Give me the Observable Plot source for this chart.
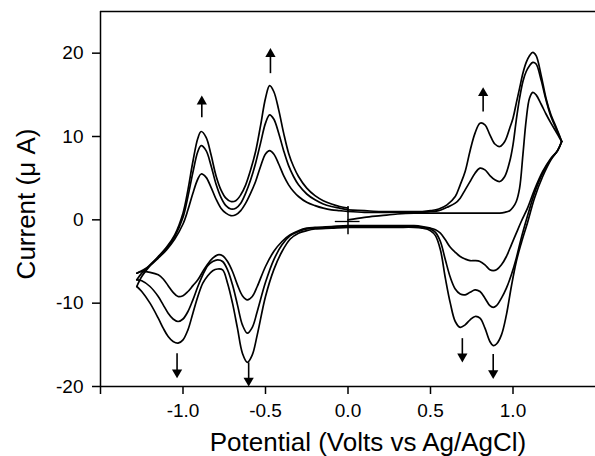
<!DOCTYPE html>
<html>
<head>
<meta charset="utf-8">
<script src="https://cdn.jsdelivr.net/npm/d3@7"></script>
<script src="https://cdn.jsdelivr.net/npm/@observablehq/plot@0.6"></script>
<style>
  html, body { margin: 0; padding: 0; background: #fff; }
  #chart { width: 595px; height: 456px; }
</style>
</head>
<body>
<div id="chart"></div>
<script>
// ---- Data ----
// Upper (anodic) branch, left half, potential grid (V)
const vUpL = [-1.28, -1.25, -1.2, -1.15, -1.1, -1.05, -1.0, -0.97, -0.94, -0.91, -0.89, -0.86, -0.83, -0.8, -0.77, -0.74, -0.71, -0.68, -0.65, -0.62, -0.59, -0.56, -0.53, -0.5, -0.475, -0.45, -0.42, -0.39, -0.36, -0.33, -0.3, -0.25, -0.2, -0.15, -0.1, -0.05, 0];
const upA = [-6.4, -6.1, -5.5, -4.6, -3.6, -2.3, -0.5, 1.2, 3.2, 4.9, 5.5, 5.1, 3.9, 2.5, 1.4, 0.8, 0.5, 0.6, 1.1, 2.0, 3.2, 4.6, 6.4, 7.9, 8.3, 7.9, 6.7, 5.3, 4.2, 3.4, 2.8, 2.1, 1.7, 1.4, 1.2, 1.1, 1.0];
const upB = [-7.2, -6.4, -5.4, -4.5, -3.4, -2.0, 0.3, 2.8, 5.7, 8.2, 8.9, 8.3, 6.5, 4.3, 2.7, 1.7, 1.3, 1.4, 2.0, 3.2, 4.8, 6.8, 9.2, 11.6, 12.6, 12.1, 10.4, 8.3, 6.5, 5.2, 4.2, 3.1, 2.4, 1.9, 1.6, 1.4, 1.2];
const upC = [-8.0, -6.8, -5.5, -4.4, -3.3, -1.8, 0.8, 3.6, 7.0, 9.8, 10.6, 9.9, 7.8, 5.3, 3.6, 2.6, 2.2, 2.3, 3.0, 4.2, 6.0, 8.2, 11.3, 14.6, 16.1, 15.4, 13.2, 10.4, 8.0, 6.4, 5.2, 3.8, 2.9, 2.3, 1.9, 1.6, 1.4];

// Upper (anodic) branch, right half
const vUpR = [0, 0.1, 0.2, 0.3, 0.4, 0.45, 0.5, 0.55, 0.6, 0.65, 0.68, 0.71, 0.74, 0.77, 0.8, 0.83, 0.86, 0.89, 0.92, 0.95, 0.98, 1.0, 1.02, 1.04, 1.06, 1.08, 1.1, 1.12, 1.14, 1.17, 1.2, 1.23, 1.26, 1.28, 1.295];
const upF = [0.0, 0.3, 0.5, 0.7, 0.8, 0.8, 0.8, 0.8, 0.8, 0.8, 0.8, 0.8, 0.8, 0.8, 0.8, 0.8, 0.8, 0.8, 0.8, 0.9, 1.1, 1.5, 2.2, 3.8, 7.8, 12.0, 14.6, 15.3, 15.0, 13.9, 12.7, 11.6, 10.6, 9.9, 9.4];
const upG = [1.0, 0.9, 0.9, 0.9, 0.9, 0.9, 1.0, 1.1, 1.5, 2.0, 2.6, 3.6, 4.6, 5.6, 6.2, 6.0, 5.3, 4.8, 4.6, 5.2, 7.0, 9.0, 12.0, 14.6, 16.6, 17.8, 18.5, 18.9, 18.7, 16.8, 14.4, 12.4, 11.0, 10.1, 9.4];
const upH = [1.2, 1.1, 1.0, 1.0, 1.0, 1.0, 1.1, 1.3, 1.8, 2.8, 4.2, 5.8, 8.3, 10.4, 11.6, 11.4, 10.2, 9.1, 8.8, 9.4, 11.0, 12.2, 14.0, 15.8, 17.6, 18.9, 19.7, 20.1, 19.7, 17.4, 14.6, 12.6, 11.2, 10.2, 9.4];

// Lower (cathodic) branch, full sweep from +1.3 V back to -1.28 V
const vLo = [1.295, 1.27, 1.23, 1.18, 1.13, 1.09, 1.05, 1.02, 0.99, 0.96, 0.93, 0.9, 0.88, 0.86, 0.83, 0.8, 0.77, 0.74, 0.71, 0.68, 0.65, 0.62, 0.59, 0.56, 0.53, 0.5, 0.45, 0.4, 0.3, 0.2, 0.1, 0, -0.1, -0.2, -0.25, -0.3, -0.35, -0.4, -0.45, -0.5, -0.55, -0.58, -0.61, -0.64, -0.67, -0.7, -0.73, -0.76, -0.79, -0.82, -0.85, -0.88, -0.91, -0.94, -0.97, -1.0, -1.03, -1.06, -1.09, -1.12, -1.15, -1.2, -1.25, -1.28];
const lo1 = [9.4, 8.3, 7.4, 5.8, 3.6, 1.5, -0.2, -1.6, -3.0, -4.4, -5.4, -6.0, -6.1, -6.0, -5.4, -5.0, -4.9, -4.9, -4.7, -4.4, -3.9, -3.3, -2.4, -1.6, -1.2, -1.0, -0.8, -0.7, -0.7, -0.7, -0.7, -0.7, -0.8, -0.9, -1.0, -1.3, -1.8, -2.6, -3.8, -5.6, -8.0, -9.2, -9.6, -9.1, -7.8, -6.2, -5.0, -4.3, -4.2, -4.6, -5.3, -6.2, -7.2, -7.9, -8.6, -9.1, -9.2, -8.7, -7.9, -7.1, -6.6, -6.3, -6.2, -6.4];
const lo2 = [9.4, 8.3, 7.3, 5.6, 3.2, 0.6, -2.2, -4.6, -6.6, -8.2, -9.4, -10.3, -10.5, -10.3, -9.4, -8.6, -8.4, -8.7, -9.0, -8.9, -8.3, -6.9, -4.8, -2.6, -1.5, -1.1, -0.9, -0.8, -0.8, -0.8, -0.8, -0.8, -0.9, -1.0, -1.1, -1.4, -1.9, -3.0, -4.8, -7.5, -11.0, -12.9, -13.6, -12.6, -10.2, -7.8, -6.0, -5.0, -4.8, -5.0, -5.5, -6.6, -8.0, -9.6, -11.0, -11.9, -12.2, -11.9, -11.2, -10.2, -9.2, -8.0, -7.3, -7.2];
const lo3 = [9.4, 8.3, 7.2, 5.2, 2.6, -0.2, -2.8, -5.0, -8.0, -11.4, -13.8, -14.9, -15.1, -14.6, -13.0, -11.8, -11.6, -12.0, -12.6, -12.9, -12.2, -10.0, -7.0, -3.6, -1.9, -1.3, -1.0, -0.9, -0.9, -0.9, -0.9, -0.9, -1.0, -1.1, -1.3, -1.6, -2.3, -3.8, -6.0, -9.2, -13.8, -16.2, -17.1, -16.0, -13.0, -10.0, -7.6, -6.0, -5.9, -6.1, -6.7, -7.6, -9.2, -11.2, -13.2, -14.4, -14.8, -14.6, -14.0, -13.0, -11.8, -10.0, -8.6, -8.0];

// Growth arrows: potential, tail current, head current
const arrowV    = [-0.886, -0.47, 0.819, -1.036, -0.602, 0.693, 0.88];
const arrowFrom = [12.3, 17.6, 13.0, -16.0, -17.1, -14.2, -16.1];
const arrowTo   = [14.2, 19.9, 15.2, -18.3, -19.3, -16.4, -18.4];

// Start-potential marker
const markV = [0];
const markLow = [-1.8];
const markHigh = [1.6];

// Axes
const xTicks = [-1.0, -0.5, 0.0, 0.5, 1.0];
const yTicks = [-20, -10, 0, 10, 20];
const xDomain = [-1.5, 1.5];
const yDomain = [-20, 25];
const xTitle = "Potential (Volts vs Ag/AgCl)";
const yTitle = "Current (\u03BC A)";

// ---- Build tables ----
const rows = (vs, is, id) => vs.map((v, i) => ({V: v, I: is[i], id}));
const curves = [
  ...rows(vUpL, upA, "A"), ...rows(vUpL, upB, "B"), ...rows(vUpL, upC, "C"),
  ...rows(vUpR, upF, "F"), ...rows(vUpR, upG, "G"), ...rows(vUpR, upH, "H"),
  ...rows(vLo, lo1, "L1"), ...rows(vLo, lo2, "L2"), ...rows(vLo, lo3, "L3")
];
const arrows = arrowV.map((v, i) => ({x: v, from: arrowFrom[i], to: arrowTo[i]}));
const marks = markV.map((v, i) => ({x: v, lo: markLow[i], hi: markHigh[i]}));

const font = "'Liberation Sans', Arial, Helvetica, sans-serif";

const chart = Plot.plot({
  width: 595,
  height: 456,
  marginLeft: 100,
  marginRight: 0,
  marginTop: 11,
  marginBottom: 70,
  x: {domain: xDomain},
  y: {domain: yDomain},
  style: {fontFamily: font, background: "white", color: "black", overflow: "visible"},
  marks: [
    // frame lines
    Plot.ruleY([yDomain[0]], {stroke: "black", strokeWidth: 1.5}),
    Plot.ruleY([yDomain[1]], {stroke: "black", strokeWidth: 1.5}),
    Plot.ruleX([xDomain[0]], {stroke: "black", strokeWidth: 1.5}),
    // axes
    Plot.axisX({ticks: xTicks, tickFormat: d => d.toFixed(1), tickSize: 8, tickPadding: 9, fontSize: 19, strokeWidth: 1.5, label: null}),
    Plot.axisX({ticks: [xDomain[0]], tickFormat: () => "", tickSize: 8, strokeWidth: 1.5, label: null}),
    Plot.axisY({ticks: yTicks, tickFormat: d => String(d), tickSize: 8, tickPadding: 9, fontSize: 19, strokeWidth: 1.5, label: null}),
    // titles
    Plot.text([xTitle], {frameAnchor: "bottom", textAnchor: "middle", lineAnchor: "middle", dx: 20, dy: 56, fontSize: 26, text: d => d, fill: "black"}),
    Plot.text([yTitle], {frameAnchor: "left", textAnchor: "middle", lineAnchor: "middle", dx: -74, dy: 5, rotate: -90, fontSize: 26, text: d => d, fill: "black"}),
    // start marker
    Plot.ruleX(marks, {x: "x", y1: "lo", y2: "hi", stroke: "black", strokeWidth: 1.5}),
    Plot.link(marks, {x1: d => d.x - 0.08, x2: d => d.x + 0.07, y1: -0.2, y2: -0.2, stroke: "black", strokeWidth: 1.3}),
    // voltammograms
    Plot.line(curves, {x: "V", y: "I", z: "id", curve: "catmull-rom", stroke: "black", strokeWidth: 1.7}),
    // arrows
    Plot.link(arrows, {x1: "x", x2: "x", y1: "from", y2: "to", stroke: "black", strokeWidth: 1.6}),
    Plot.dot(arrows, {x: "x", y: "to", symbol: "triangle", r: 3.8, fill: "black", stroke: "none", rotate: d => (d.to > d.from ? 0 : 180)})
  ]
});
document.getElementById("chart").appendChild(chart);
</script>
</body>
</html>
